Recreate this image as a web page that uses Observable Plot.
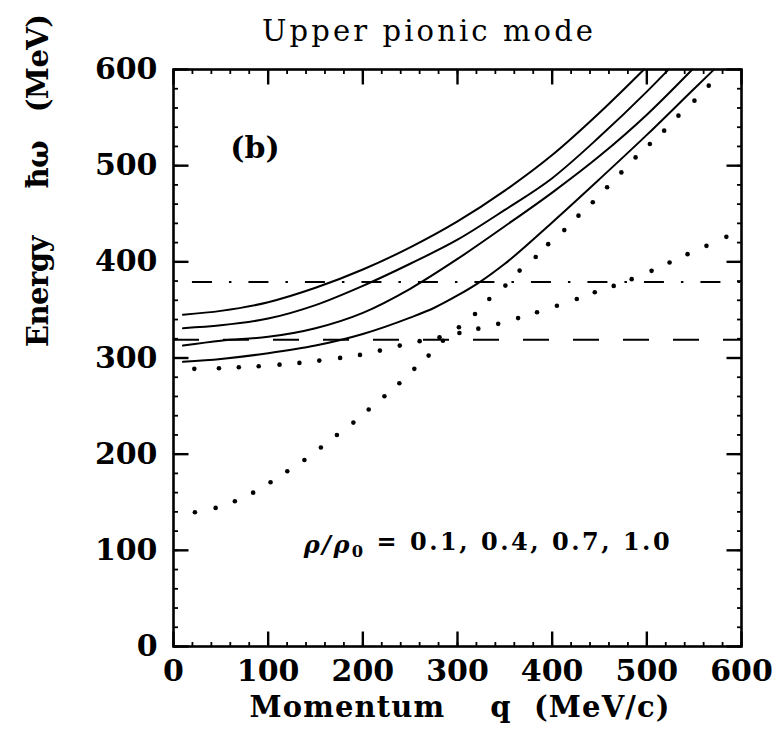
<!DOCTYPE html>
<html><head><meta charset="utf-8">
<script src="https://cdn.jsdelivr.net/npm/d3@7"></script>
<script src="https://cdn.jsdelivr.net/npm/@observablehq/plot@0.6"></script>
<style>body{margin:0;background:#fff;color:#000}</style>
</head><body><div id="chart"></div>
<script>
// ---- data ----
const xTicks = [0, 100, 200, 300, 400, 500, 600];
const yTicks = [0, 100, 200, 300, 400, 500, 600];
const minorTicks = [0,20,40,60,80,100,120,140,160,180,200,220,240,260,280,300,320,340,360,380,400,420,440,460,480,500,520,540,560,580,600];

const densities = ["0.1", "0.4", "0.7", "1.0"];
const q_rho01 = [10, 50, 100, 150, 200, 250, 300, 350, 400, 450, 497];
const E_rho01 = [345, 349, 358, 373, 392, 415, 442, 474, 511, 555, 600];
const q_rho04 = [10, 50, 100, 150, 200, 250, 300, 350, 400, 450, 500, 523];
const E_rho04 = [331, 334, 341, 355, 375, 398, 423, 454, 487, 530, 577, 600];
const q_rho07 = [10, 50, 100, 150, 200, 250, 300, 350, 400, 450, 500, 548];
const E_rho07 = [313, 318, 322, 331, 347, 372, 403, 437, 472, 510, 553, 600];
const q_rho10 = [10, 50, 100, 150, 200, 250, 275, 300, 325, 350, 400, 450, 500, 550, 571];
const E_rho10 = [296, 299, 305, 313, 325, 342, 352, 365, 380, 398, 441, 486, 532, 580, 600];

// dotted curves (one dot per value)
const q_dotA = [22, 48, 69, 90, 112, 133, 154, 176, 197, 218, 239, 260, 281, 302, 322, 343, 364, 384, 405, 426, 445, 465, 484, 505, 524, 543, 563, 584];
const E_dotA = [288.7, 289.4, 290.4, 291.4, 293.1, 294.9, 297.3, 300.1, 303.2, 307.7, 312.9, 317.5, 321.5, 326, 330.5, 335.5, 341.5, 347.5, 354.4, 361.3, 368.3, 375, 382, 390.6, 399.3, 408, 416.6, 426];
const q_dotB = [22.6, 44.5, 64.8, 84.1, 102.5, 120.2, 138.3, 155.7, 172.6, 190, 206.2, 222.8, 238.6, 254.4, 269.5, 284.6, 301.5, 318.5, 333.6, 350.6, 365.6, 382.6, 395.8, 412.8, 427.8, 442.9, 458, 473.1, 488.1, 503.2, 518.3, 533.4, 550.3, 565.4];
const E_dotB = [139.6, 144.1, 151, 160, 170.8, 182.2, 194, 206.9, 220, 232.8, 246.4, 260.2, 273.7, 288.7, 302.5, 318, 332, 345.8, 361.4, 375.3, 390.9, 405, 418.4, 433, 448, 462, 477.5, 493, 508.6, 522.5, 536.4, 552, 567.6, 583.2];

const refNames = ["dashed", "dashdot"];
const refEnergy = [319, 379];
const refStart = [0, 20];
const refEnd = [600, 600];

const titleText = "Upper pionic mode";
const xLabelText = "Momentum\u00a0\u00a0\u00a0\u00a0q\u00a0\u00a0(MeV/c)";
const yLabelText = "Energy\u00a0\u00a0\u00a0\u00a0\u00a0\u0127\u03c9\u00a0\u00a0\u00a0(MeV)";
const panelText = "(b)";
const noteText = "NOTE";

// ---- tables ----
const curveQ = [q_rho01, q_rho04, q_rho07, q_rho10];
const curveE = [E_rho01, E_rho04, E_rho07, E_rho10];
const curves = densities.flatMap((rho, i) => curveQ[i].map((q, j) => ({rho, q, E: curveE[i][j]})));
const dotsA = q_dotA.map((q, i) => ({q, E: E_dotA[i]}));
const dotsB = q_dotB.map((q, i) => ({q, E: E_dotB[i]}));
const refs = refNames.map((name, i) => ({name, E: refEnergy[i], q1: refStart[i], q2: refEnd[i]}));

const W = 781, H = 750, ML = 173, MR = 40, MT = 69, MB = 104;
const PW = W - ML - MR, PH = H - MT - MB;
const xMin = 0, xMax = 600, yMin = 0, yMax = 600;
const majX = 15 * (xMax - xMin) / PW, minX = 4.5 * (xMax - xMin) / PW;
const majY = 15 * (yMax - yMin) / PH, minY = 4.5 * (yMax - yMin) / PH;
const tickRows = [
  ...yTicks.map(v => ({x1: xMin, x2: xMin + majX, y1: v, y2: v, w: 2.2})),
  ...yTicks.map(v => ({x1: xMax - majX, x2: xMax, y1: v, y2: v, w: 2.2})),
  ...xTicks.map(v => ({x1: v, x2: v, y1: yMin, y2: yMin + majY, w: 2.2})),
  ...xTicks.map(v => ({x1: v, x2: v, y1: yMax - majY, y2: yMax, w: 2.2})),
  ...minorTicks.map(v => ({x1: xMin, x2: xMin + minX, y1: v, y2: v, w: 1.6})),
  ...minorTicks.map(v => ({x1: xMax - minX, x2: xMax, y1: v, y2: v, w: 1.6})),
  ...minorTicks.map(v => ({x1: v, x2: v, y1: yMin, y2: yMin + minY, w: 1.6})),
  ...minorTicks.map(v => ({x1: v, x2: v, y1: yMax - minY, y2: yMax, w: 1.6}))
];
const serif = "'DejaVu Serif', 'Liberation Serif', serif";
const K = "#000";

const svg = Plot.plot({
  width: W, height: H,
  marginLeft: ML, marginRight: MR, marginTop: MT, marginBottom: MB,
  x: {domain: [xMin, xMax], ticks: xTicks, tickSize: 0, tickPadding: 13.5, label: null},
  y: {domain: [yMin, yMax], ticks: yTicks, tickSize: 0, tickPadding: 16, label: null},
  style: {fontFamily: serif, fontSize: "30px", fontWeight: "bold", background: "#fff"},
  marks: [
    Plot.ruleY(refs.filter(d => d.name === "dashed"), {y: "E", x1: "q1", x2: "q2", stroke: K, strokeWidth: 2, strokeDasharray: "26,24"}),
    Plot.ruleY(refs.filter(d => d.name === "dashdot"), {y: "E", x1: "q1", x2: "q2", stroke: K, strokeWidth: 2, strokeDasharray: "20,17,2.5,17"}),
    Plot.dot(dotsA, {x: "q", y: "E", r: 2.3, fill: K}),
    Plot.dot(dotsB, {x: "q", y: "E", r: 2.3, fill: K}),
    Plot.line(curves, {x: "q", y: "E", z: "rho", stroke: K, strokeWidth: 2, curve: "monotone-x"}),
    Plot.frame({stroke: K, strokeWidth: 2.6}),
    Plot.link(tickRows.filter(d => d.w > 2), {x1: "x1", x2: "x2", y1: "y1", y2: "y2", stroke: K, strokeWidth: 2.4}),
    Plot.link(tickRows.filter(d => d.w < 2), {x1: "x1", x2: "x2", y1: "y1", y2: "y2", stroke: K, strokeWidth: 1.8}),
    Plot.text([titleText], {frameAnchor: "top", dx: -30, dy: -28.5, lineAnchor: "bottom", fontSize: 29, fontWeight: "normal", fill: K}),
    Plot.text([xLabelText], {frameAnchor: "bottom", dx: 2, dy: 70, lineAnchor: "bottom", fontSize: 29, fontWeight: "bold", fill: K}),
    Plot.text([yLabelText], {frameAnchor: "left", rotate: -90, dx: -126, dy: -11, lineAnchor: "bottom", fontSize: 29, fontWeight: "bold", fill: K}),
    Plot.text([panelText], {x: () => 86, y: () => 518, fontSize: 30, fontWeight: "bold", fill: K}),
    Plot.text([noteText], {x: () => 137.5, y: () => 97.7, textAnchor: "start", lineAnchor: "bottom", fontSize: 24, fontWeight: "bold", fill: K})
  ]
});

const sel = d3.select(svg);
const byText = (s) => sel.selectAll("text").filter(function () { return this.textContent === s; });
const setLen = (s, len) => byText(s).attr("textLength", len).attr("lengthAdjust", "spacing");
setLen(titleText, 331);
setLen(xLabelText, 420);
setLen(yLabelText, 333);
const note = byText(noteText);
note.text(null);
note.append("tspan").attr("font-style", "italic").text("\u03c1/\u03c1");
note.append("tspan").attr("font-size", "0.68em").attr("dy", "0.3em").text("0");
note.append("tspan").attr("dy", "-0.3em").text("\u00a0=\u00a0" + densities.join(",\u00a0"));
note.attr("textLength", 366).attr("lengthAdjust", "spacing");

document.getElementById("chart").appendChild(svg);
</script>
</body></html>
